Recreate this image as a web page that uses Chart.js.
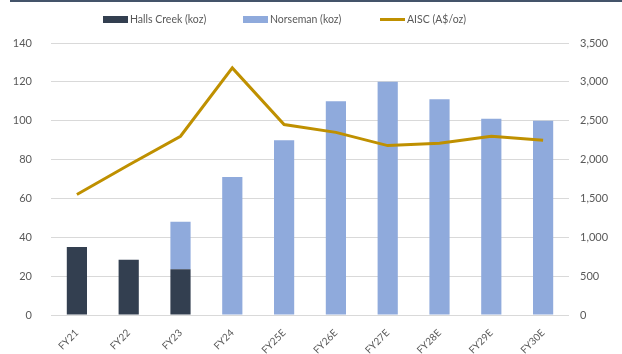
<!DOCTYPE html>
<html>
<head>
<meta charset="utf-8">
<script src="https://cdn.jsdelivr.net/npm/chart.js@4.4.0/dist/chart.umd.min.js"></script>
<style>
  html, body { margin: 0; padding: 0; background: #fff; }
  #wrap { position: relative; width: 622px; height: 354px; overflow: hidden; }
  #topline { position: absolute; left: 10px; top: 0; width: 612px; height: 2px; background: #44546a; }
  #legend { position: absolute; left: 103px; top: 19px; display: flex; align-items: center;
            font-family: Lato, "Open Sans", sans-serif; font-size: 10.5px; color: #595959; }
  .item { display: flex; align-items: center; }
  .swatch { width: 25px; height: 7px; margin-right: 2px; }
  .swatch.line { height: 3px; }
</style>
</head>
<body>
<div id="wrap">
  <div id="topline"></div>
  <div id="legend"></div>
  <canvas id="chart" width="622" height="354"></canvas>
</div>
<script>
const categories = ["FY21", "FY22", "FY23", "FY24", "FY25E", "FY26E", "FY27E", "FY28E", "FY29E", "FY30E"];
const hallsCreek = [35, 28.5, 23.5, null, null, null, null, null, null, null];
const norseman = [null, null, 24.5, 71, 90, 110, 120, 111, 101, 100];
const aisc = [1550, 1930, 2300, 3180, 2450, 2350, 2180, 2210, 2300, 2250];

const hallsColor = "#333f50";
const norsemanColor = "#8faadc";
const aiscColor = "#bf9000";
const textColor = "#595959";
const fontFamily = "Lato, 'Open Sans', sans-serif";

// Legend (html), item starts as in the picture
const legendItems = [
  { label: "Halls Creek (koz)", color: hallsColor, line: false, left: 0 },
  { label: "Norseman (koz)", color: norsemanColor, line: false, left: 140 },
  { label: "AISC (A$/oz)", color: aiscColor, line: true, left: 277 }
];
const legend = document.getElementById("legend");
legendItems.forEach(it => {
  const div = document.createElement("div");
  div.className = "item";
  div.style.position = "absolute";
  div.style.left = it.left + "px";
  div.style.whiteSpace = "nowrap";
  div.innerHTML = `<span class="swatch${it.line ? " line" : ""}" style="background:${it.color}"></span><span>${it.label}</span>`;
  legend.appendChild(div);
});

const chartCanvas = document.getElementById("chart");

let productionChart = new Chart(chartCanvas, {
  type: 'bar',
  data: {
    labels: categories,
    datasets: [
      {
        type: 'line',
        label: 'AISC (A$/oz)',
        data: aisc,
        borderColor: aiscColor,
        borderWidth: 3,
        pointRadius: 0,
        tension: 0,
        yAxisID: 'y1',
        order: 0
      },
      {
        label: 'Halls Creek (koz)',
        data: hallsCreek,
        backgroundColor: hallsColor,
        stack: 'prod',
        categoryPercentage: 1,
        barPercentage: 0.39,
        yAxisID: 'y',
        order: 1
      },
      {
        label: 'Norseman (koz)',
        data: norseman,
        backgroundColor: norsemanColor,
        stack: 'prod',
        categoryPercentage: 1,
        barPercentage: 0.39,
        yAxisID: 'y',
        order: 1
      }
    ]
  },
  options: {
    responsive: false,
    animation: false,
    layout: { padding: { top: 43, left: 0, right: 0, bottom: 0 } },
    plugins: {
      legend: { display: false },
      tooltip: { enabled: false }
    },
    scales: {
      x: {
        stacked: true,
        grid: { display: false },
        border: { display: false },
        ticks: {
          color: textColor,
          font: { family: fontFamily, size: 10 },
          minRotation: 45,
          maxRotation: 45,
          padding: 4
        },
        afterFit: scale => { scale.height = 39; }
      },
      y: {
        stacked: true,
        position: 'left',
        min: 0,
        max: 140,
        grid: { color: "#d9d9d9", lineWidth: 1, drawTicks: false },
        border: { display: false },
        ticks: {
          stepSize: 20,
          color: textColor,
          font: { family: fontFamily, size: 11 },
          padding: 19
        },
        afterFit: scale => { scale.width = 51; }
      },
      y1: {
        position: 'right',
        min: 0,
        max: 3500,
        grid: { display: false, drawTicks: false },
        border: { display: false },
        ticks: {
          stepSize: 500,
          color: textColor,
          font: { family: fontFamily, size: 11 },
          padding: 11,
          callback: v => v.toLocaleString('en-US')
        },
        afterFit: scale => { scale.width = 53; }
      }
    }
  }
});
</script>
</body>
</html>
